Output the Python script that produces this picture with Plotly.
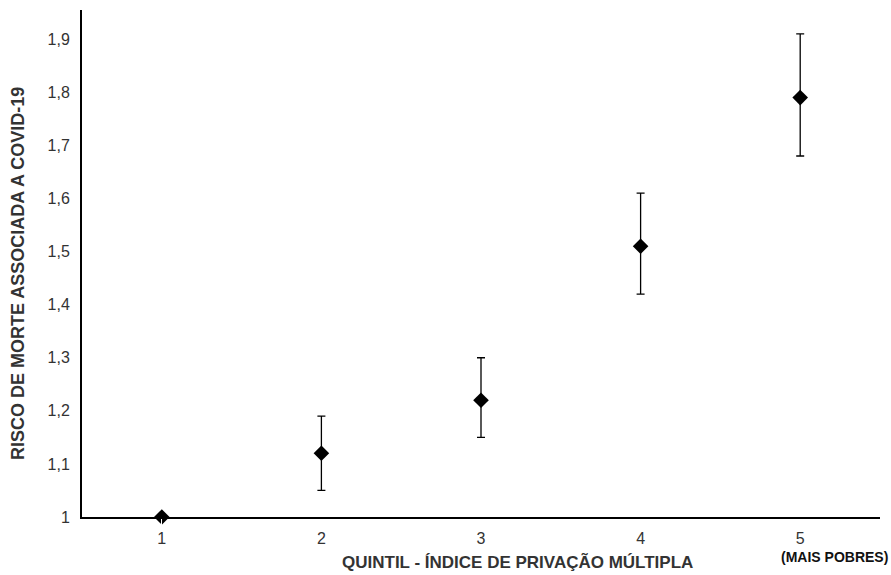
import plotly.graph_objects as go

quintis = [1, 2, 3, 4, 5]
tick_labels = ["1", "2", "3", "4", "5"]
risco = [1.00, 1.12, 1.22, 1.51, 1.79]
ic_sup = [1.00, 1.19, 1.30, 1.61, 1.91]
ic_inf = [1.00, 1.05, 1.15, 1.42, 1.68]
y_ticks = [1.0, 1.1, 1.2, 1.3, 1.4, 1.5, 1.6, 1.7, 1.8, 1.9]
y_tick_text = ["1", "1,1", "1,2", "1,3", "1,4", "1,5", "1,6", "1,7", "1,8", "1,9"]

err_plus = [s - r for s, r in zip(ic_sup, risco)]
err_minus = [r - i for r, i in zip(risco, ic_inf)]

fig = go.Figure()
fig.add_trace(go.Scatter(
    x=quintis, y=risco, mode="markers",
    marker=dict(symbol="diamond", size=12, color="black"),
    error_y=dict(type="data", symmetric=False, array=err_plus, arrayminus=err_minus,
                 color="black", thickness=1.3, width=4),
    cliponaxis=False, showlegend=False,
))

title_font = "Liberation Sans Narrow, Arial Narrow, Liberation Sans, Arial, sans-serif"

fig.update_layout(
    width=891, height=575,
    margin=dict(l=82, r=11, t=10, b=58),
    paper_bgcolor="white", plot_bgcolor="white",
    font=dict(family="Liberation Sans, Arial, sans-serif", size=16, color="#333333"),
    xaxis=dict(range=[0.5, 5.5], tickvals=quintis, ticktext=tick_labels, automargin=False,
               showgrid=False, zeroline=False, showline=True, linecolor="black",
               linewidth=2, ticks="outside", ticklen=6, tickcolor="white",
               tickfont=dict(size=16, color="#333333")),
    yaxis=dict(range=[1.0, 1.955], tickvals=y_ticks, ticktext=y_tick_text, automargin=False,
               showgrid=False, zeroline=False, showline=True, linecolor="black",
               linewidth=2, ticks="outside", ticklen=7, tickcolor="white",
               tickfont=dict(size=16, color="#333333")),
    annotations=[
        dict(text="<b>RISCO DE MORTE ASSOCIADA A COVID-19</b>", xref="paper", yref="paper",
             x=-0.081, y=0.48, textangle=-90, showarrow=False, xanchor="center", yanchor="middle",
             font=dict(family=title_font, size=18, color="#333333")),
        dict(text="<b>QUINTIL - ÍNDICE DE PRIVAÇÃO MÚLTIPLA</b>", xref="x", yref="paper",
             x=3.23, y=-0.089, showarrow=False, xanchor="center", yanchor="middle",
             font=dict(family=title_font, size=17, color="#333333")),
        dict(text="<b>(MAIS POBRES)</b>", xref="paper", yref="paper",
             x=1.012, y=-0.078, showarrow=False, xanchor="right", yanchor="middle",
             font=dict(family=title_font, size=14, color="#111111")),
    ],
)

fig.write_html("out.html", config={"displayModeBar": False},
               post_script="document.body.style.margin='0';")
